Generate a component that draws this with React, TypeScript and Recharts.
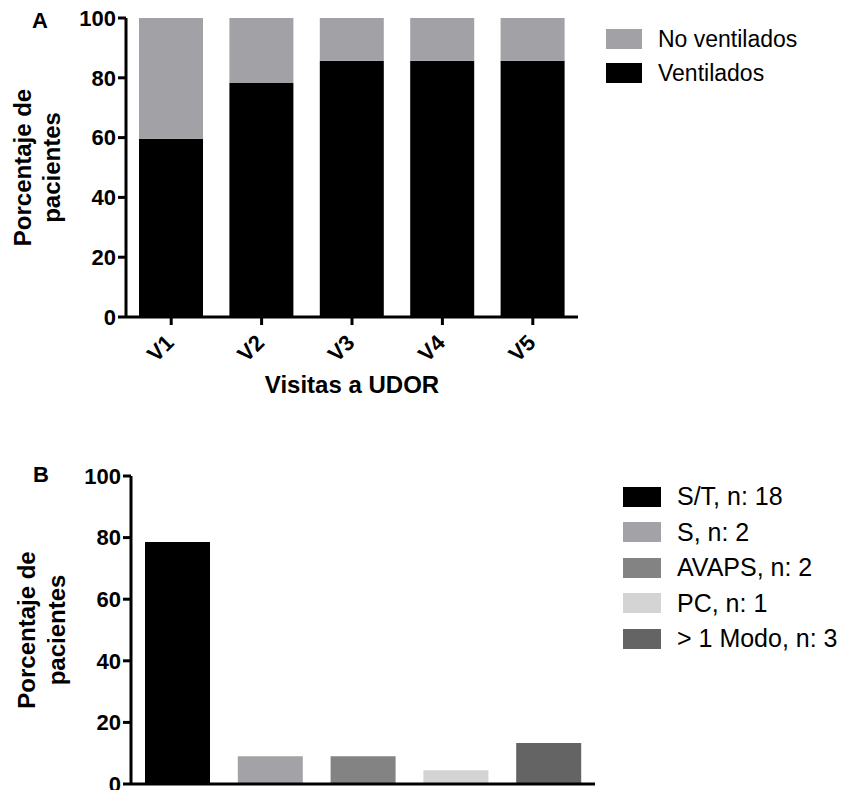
import { Bar, BarChart, Cell, Legend, XAxis, YAxis } from "recharts";

const FONT = '"Liberation Sans", Arial, Helvetica, sans-serif';

// Panel A: ventilated vs not, per visit
const visits = ["V1", "V2", "V3", "V4", "V5"];
const ventilados = [59.6, 78.3, 85.7, 85.7, 85.7];
const noVentilados = [40.4, 21.7, 14.3, 14.3, 14.3];

// Panel B: ventilation mode
const modes = ["S/T", "S", "AVAPS", "PC", "> 1 Modo"];
const modeCounts = [18, 2, 2, 1, 3];
const modePercent = [78.6, 9.0, 9.0, 4.5, 13.3];
const modeColors = ["#000000", "#a3a3a7", "#838383", "#d4d4d4", "#646464"];

const yTicks = [0, 20, 40, 60, 80, 100];

const GRAY_A = "#a2a2a6";

const dataA = visits.map((v, i) => ({ visit: v, ventilados: ventilados[i], noVentilados: noVentilados[i] }));
const dataB = modes.map((m, i) => ({ mode: m, value: modePercent[i], color: modeColors[i], name: `${m}, n: ${modeCounts[i]}` }));

const axisStroke = { stroke: "#000", strokeWidth: 3 };
const tickStyle = { fill: "#000", fontSize: 22, fontWeight: 700, fontFamily: FONT };

function yTitle(x1: number, x2: number) {
  return (props: any) => {
    const vb = props.viewBox || {};
    const cy = vb.y + vb.height / 2;
    const style = { fontSize: 24, fontWeight: 700, fontFamily: FONT, fill: "#000" };
    return (
      <g>
        <text transform={`translate(${x1},${cy}) rotate(-90)`} textAnchor="middle" style={style}>
          Porcentaje de
        </text>
        <text transform={`translate(${x2},${cy}) rotate(-90)`} textAnchor="middle" style={style}>
          pacientes
        </text>
      </g>
    );
  };
}

function VisitTick({ x, y, payload }: any) {
  return (
    <text
      transform={`translate(${x + 4},${y + 17}) rotate(-45)`}
      textAnchor="end"
      style={tickStyle}
    >
      {payload.value}
    </text>
  );
}

function LegendRows({ items, rowH, boxW, gap, fontSize }: any) {
  return (
    <div style={{ fontFamily: FONT }}>
      {items.map((it: any) => (
        <div key={it.label} style={{ display: "flex", alignItems: "center", height: rowH }}>
          <div style={{ width: boxW, height: 20, background: it.color, marginRight: gap, flexShrink: 0 }} />
          <span style={{ fontSize, color: "#000", whiteSpace: "nowrap" }}>{it.label}</span>
        </div>
      ))}
    </div>
  );
}

const legendA = [
  { label: "No ventilados", color: GRAY_A },
  { label: "Ventilados", color: "#000" },
];

export default function App() {
  return (
    <div style={{ position: "absolute", left: 0, top: 0, width: 842, height: 790, background: "#fff", overflow: "hidden" }}>
      <div style={{ position: "absolute", left: 32, top: 10, fontFamily: FONT, fontWeight: 700, fontSize: 22, lineHeight: "22px" }}>A</div>
      <div style={{ position: "absolute", left: 33, top: 464, fontFamily: FONT, fontWeight: 700, fontSize: 22, lineHeight: "22px" }}>B</div>

      <div style={{ position: "absolute", left: 0, top: 0 }}>
        <BarChart width={842} height={400} data={dataA} margin={{ top: 18, right: 264, left: 0, bottom: 0 }} barSize={64}>
          <XAxis
            dataKey="visit"
            height={83}
            axisLine={axisStroke}
            tickLine={axisStroke}
            tickSize={8}
            tick={<VisitTick />}
            interval={0}
            label={(props: any) => {
              const vb = props.viewBox || {};
              return (
                <text x={vb.x + vb.width / 2} y={vb.y + 76} textAnchor="middle" style={{ fontSize: 24, fontWeight: 700, fontFamily: FONT, fill: "#000" }}>
                  Visitas a UDOR
                </text>
              );
            }}
          />
          <YAxis
            width={126}
            domain={[0, 100]}
            ticks={yTicks}
            interval={0}
            axisLine={axisStroke}
            tickLine={axisStroke}
            tickSize={8}
            tick={tickStyle}
            label={yTitle(31, 60)}
          />
          <Legend
            layout="vertical"
            align="center"
            verticalAlign="middle"
            wrapperStyle={{ left: 606, top: 22, width: 236 }}
            content={() => <LegendRows items={legendA} rowH={34} boxW={36} gap={16} fontSize={23} />}
          />
          <Bar dataKey="ventilados" name="Ventilados" stackId="a" fill="#000" isAnimationActive={false} />
          <Bar dataKey="noVentilados" name="No ventilados" stackId="a" fill={GRAY_A} isAnimationActive={false} />
        </BarChart>
      </div>

      <div style={{ position: "absolute", left: 0, top: 440 }}>
        <BarChart width={842} height={350} data={dataB} margin={{ top: 36, right: 247, left: 0, bottom: 0 }} barSize={65}>
          <XAxis dataKey="mode" height={6} axisLine={axisStroke} tickLine={false} tick={false} />
          <YAxis
            width={131}
            domain={[0, 100]}
            ticks={yTicks}
            interval={0}
            axisLine={axisStroke}
            tickLine={axisStroke}
            tickSize={8}
            tick={tickStyle}
            label={yTitle(35, 65)}
          />
          <Legend
            layout="vertical"
            align="center"
            verticalAlign="middle"
            wrapperStyle={{ left: 623, top: 39, width: 219 }}
            content={() => (
              <LegendRows items={dataB.map((d) => ({ label: d.name, color: d.color }))} rowH={35.5} boxW={38} gap={16} fontSize={25} />
            )}
          />
          <Bar dataKey="value" isAnimationActive={false}>
            {dataB.map((d) => (
              <Cell key={d.mode} fill={d.color} />
            ))}
          </Bar>
        </BarChart>
      </div>
    </div>
  );
}
